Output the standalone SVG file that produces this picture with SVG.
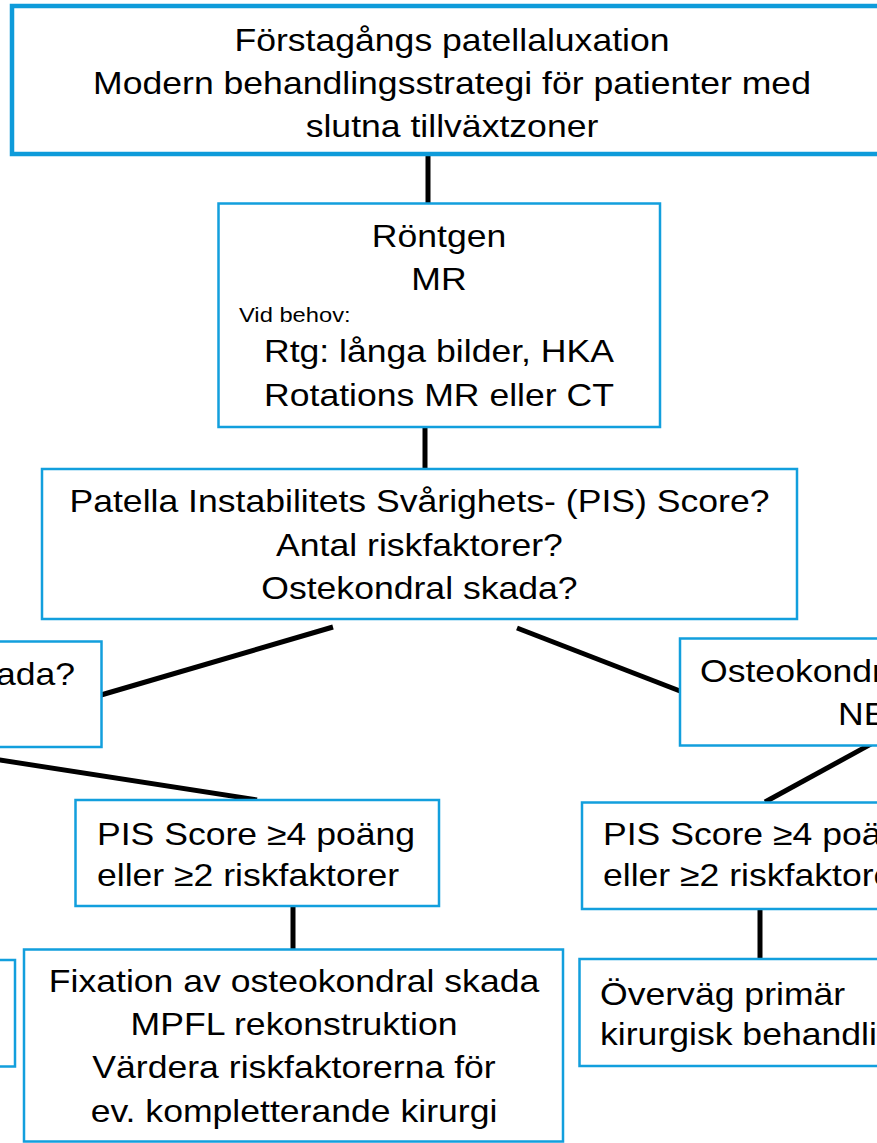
<svg xmlns="http://www.w3.org/2000/svg" width="877" height="1143" viewBox="0 0 877 1143">
<style>
.box{fill:#fff;stroke:#129FDD;stroke-width:2.5}
.top{fill:#fff;stroke:#0E9BDA;stroke-width:4.5}
.t{font-family:"Liberation Sans",Arial,sans-serif;font-size:31.5px;fill:#000}
.s{font-family:"Liberation Sans",Arial,sans-serif;font-size:21px;fill:#000}
.c{text-anchor:middle}
.e{text-anchor:end}
.ln{stroke:#000;stroke-width:5;fill:none}
</style>
<rect width="877" height="1143" fill="#fff"/>
<g id="connectors">
<line class="ln" x1="428" y1="156" x2="428" y2="203"/>
<line class="ln" x1="425" y1="427" x2="425" y2="469"/>
<line class="ln" x1="333" y1="627" x2="101" y2="695"/>
<line class="ln" x1="517" y1="628" x2="680" y2="691"/>
<line class="ln" x1="-10" y1="758.5" x2="257" y2="800"/>
<line class="ln" x1="882" y1="738" x2="765" y2="802"/>
<line class="ln" x1="293" y1="906" x2="293" y2="949"/>
<line class="ln" x1="760" y1="909" x2="760" y2="959"/>
</g>
<g id="n-top">
<rect class="top" x="12" y="6" width="900" height="148"/>
<g transform="scale(1.13,1)">
<text class="t c" x="400" y="51">Förstagångs patellaluxation</text>
<text class="t c" x="400" y="94">Modern behandlingsstrategi för patienter med</text>
<text class="t c" x="400" y="137">slutna tillväxtzoner</text>
</g>
</g>
<g id="n-rontgen">
<rect class="box" x="218.5" y="203.5" width="441.5" height="223.5"/>
<g transform="scale(1.13,1)">
<text class="t c" x="388.5" y="247">Röntgen</text>
<text class="t c" x="388.5" y="290">MR</text>
<text class="s" x="211.5" y="322">Vid behov:</text>
<text class="t c" x="388.5" y="362">Rtg: långa bilder, HKA</text>
<text class="t c" x="388.5" y="406">Rotations MR eller CT</text>
</g>
</g>
<g id="n-pis">
<rect class="box" x="42" y="469" width="755" height="150"/>
<g transform="scale(1.13,1)">
<text class="t c" x="371.2" y="512">Patella Instabilitets Svårighets- (PIS) Score?</text>
<text class="t c" x="371.2" y="556">Antal riskfaktorer?</text>
<text class="t c" x="371.2" y="599">Ostekondral skada?</text>
</g>
</g>
<g id="n-left">
<rect class="box" x="-100" y="641.5" width="201.5" height="105.5"/>
<g transform="scale(1.13,1)">
<text class="t e" x="66.4" y="685">Osteokondral skada?</text>
</g>
</g>
<g id="n-right">
<rect class="box" x="680" y="638.5" width="300" height="107"/>
<g transform="scale(1.13,1)">
<text class="t" x="619.5" y="682">Osteokondral skada?</text>
<text class="t" x="741.6" y="725">NEJ</text>
</g>
</g>
<g id="n-pis-left">
<rect class="box" x="75.5" y="800" width="363.5" height="106"/>
<g transform="scale(1.13,1)">
<text class="t" x="85.8" y="845">PIS Score ≥4 poäng</text>
<text class="t" x="85.8" y="886">eller ≥2 riskfaktorer</text>
</g>
</g>
<g id="n-pis-right">
<rect class="box" x="582" y="802.5" width="400" height="106.5"/>
<g transform="scale(1.13,1)">
<text class="t" x="533.6" y="845">PIS Score ≥4 poäng</text>
<text class="t" x="533.6" y="886">eller ≥2 riskfaktorer</text>
</g>
</g>
<g id="n-farleft">
<rect class="box" x="-100" y="960" width="115" height="106.5"/>
</g>
<g id="n-fixation">
<rect class="box" x="24" y="949.5" width="539" height="192"/>
<g transform="scale(1.13,1)">
<text class="t c" x="260.2" y="992">Fixation av osteokondral skada</text>
<text class="t c" x="260.2" y="1035">MPFL rekonstruktion</text>
<text class="t c" x="260.2" y="1078">Värdera riskfaktorerna för</text>
<text class="t c" x="260.2" y="1122">ev. kompletterande kirurgi</text>
</g>
</g>
<g id="n-primar">
<rect class="box" x="579.5" y="959" width="400" height="107"/>
<g transform="scale(1.13,1)">
<text class="t" x="531" y="1005">Överväg primär</text>
<text class="t" x="531" y="1045">kirurgisk behandling</text>
</g>
</g>
</svg>
